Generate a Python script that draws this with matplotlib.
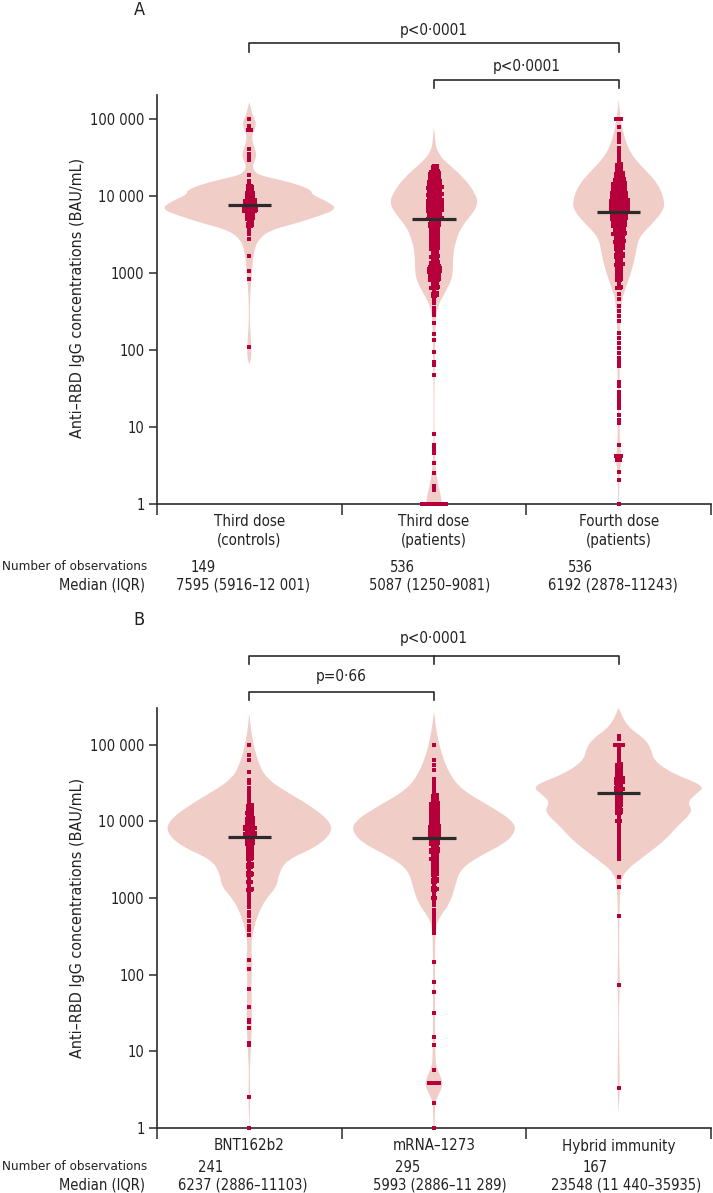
import numpy as np
import matplotlib.pyplot as plt
from matplotlib.path import Path
from matplotlib.patches import PathPatch
from matplotlib.ticker import NullLocator
from matplotlib.transforms import blended_transform_factory

plt.rcParams['font.family'] = ['DejaVu Sans']
plt.rcParams['font.stretch'] = 'condensed'
plt.rcParams['font.size'] = 10.5

W, H = 713, 1193
VIOLIN = '#f1cdc7'
DOT = '#b5003c'
INK = '#2b2b2b'

# ---------------- panel A ----------------
a_labels = ['Third dose\n(controls)', 'Third dose\n(patients)', 'Fourth dose\n(patients)']
a_n = [149, 536, 536]
a_median = [7595, 5087, 6192]
a_iqr = ['7595 (5916–12 001)', '5087 (1250–9081)', '6192 (2878–11243)']

# violin outlines: log10 level -> half width (fraction of slot)
a1_violin_log = [5.22, 5.07, 4.99, 4.93, 4.85, 4.76, 4.63, 4.54, 4.46, 4.37, 4.30, 4.26, 4.22, 4.15, 4.07,
                 4.02, 3.92, 3.83, 3.74, 3.63, 3.55, 3.42, 3.24, 3.02, 2.89, 2.72, 2.37, 2.20, 2.05, 1.90, 1.81]
a1_violin_width = [0, .015, .030, .036, .027, .011, .027, .040, .030, .015, .035, .070, .145, .260, .340,
                   .335, .430, .475, .380, .232, .108, .043, .022, .015, .011, .004, .002, .007, .011, .011, 0]
a2_violin_log = [4.89, 4.75, 4.63, 4.55, 4.46, 4.24, 4.02, 3.89, 3.76, 3.59, 3.42, 3.24, 3.02, 2.89, 2.72,
                 2.55, 2.29, 1.85, 1.42, 0.99, 0.55, 0.29, 0.12, 0.0, -0.1]
a2_violin_width = [0, .006, .011, .027, .054, .162, .227, .238, .205, .146, .119, .103, .103, .092, .054,
                   .015, .007, .005, .002, .002, .005, .018, .036, .043, .045]
a3_violin_log = [5.25, 5.07, 4.80, 4.54, 4.33, 4.15, 3.94, 3.81, 3.63, 3.46, 3.24, 3.02, 2.81, 2.63, 2.29,
                 1.42, 0.85, 0.70, 0.60, 0.50, 0.42, 0.2, 0.0, -0.1]
a3_violin_width = [0, .007, .025, .065, .146, .216, .249, .243, .178, .108, .092, .070, .038, .015, .007,
                   .005, .005, .010, .015, .012, .005, .003, .002, .002]

# observations: dense stretches as 0.1-decade bins with counts, the rest one by one (log10)
a1_bin_log = [3.55, 3.65, 3.75, 3.85, 3.95, 4.05, 4.15]
a1_bin_count = [6, 12, 22, 36, 28, 20, 11]
a1_single_log = [5.0, 4.91, 4.85, 4.85, 4.61, 4.54, 4.52, 4.46, 4.27, 3.44, 3.22, 3.02, 2.92, 2.04]

a2_bin_log = [2.65, 2.75, 2.85, 2.95, 3.05, 3.15, 3.25, 3.35, 3.45, 3.55, 3.65, 3.75, 3.85, 3.95, 4.05,
              4.15, 4.25, 4.35]
a2_bin_count = [8, 12, 18, 30, 38, 20, 18, 22, 22, 24, 28, 42, 48, 44, 42, 42, 32, 18]
a2_single_log = [2.55, 2.51, 2.45, 2.35, 2.21, 2.13, 1.97, 1.85, 1.81, 1.67, 0.91, 0.77, 0.72, 0.66, 0.53,
                 0.40, 0.23, 0.18, 0, 0, 0, 0, 0, 0, 0, 0, 0, 0]

a3_bin_log = [2.85, 2.95, 3.05, 3.15, 3.25, 3.35, 3.45, 3.55, 3.65, 3.75, 3.85, 3.95, 4.05, 4.15, 4.25,
              4.35, 4.45, 4.55]
a3_bin_count = [10, 14, 16, 18, 20, 23, 26, 34, 40, 48, 54, 52, 44, 38, 26, 16, 10, 6]
a3_single_log = [5.0, 5.0, 5.0, 4.89, 4.80, 4.75, 4.70, 4.62, 2.72, 2.66, 2.57, 2.50, 2.44, 2.37, 2.22,
                 2.16, 2.09, 2.03, 1.96, 1.90, 1.85, 1.79, 1.59, 1.53, 1.46, 1.40, 1.35, 1.30, 1.24, 1.16,
                 1.09, 1.05, 0.77, 0.62, 0.62, 0.62, 0.57, 0.57, 0.42, 0.31, 0.0]

# ---------------- panel B ----------------
b_labels = ['BNT162b2', 'mRNA–1273', 'Hybrid immunity']
b_n = [241, 295, 167]
b_median = [6237, 5993, 23548]
b_iqr = ['6237 (2886–11103)', '5993 (2886–11 289)', '23548 (11 440–35935)']

b1_violin_log = [5.41, 5.07, 4.72, 4.55, 4.41, 4.19, 4.00, 3.85, 3.67, 3.50, 3.32, 3.15, 2.98, 2.76, 2.54,
                 2.37, 2.15, 1.98, 1.76, 1.45, 1.15, 0.89, 0.72, 0.41, 0.15, 0.0, -0.1]
b1_violin_width = [0, .015, .054, .100, .185, .340, .438, .447, .365, .204, .159, .150, .086, .041, .018,
                   .009, .018, .011, .012, .015, .011, .005, .002, .005, .002, .001, .001]
b2_violin_log = [5.43, 5.15, 4.89, 4.63, 4.41, 4.19, 4.02, 3.89, 3.72, 3.54, 3.37, 3.15, 2.93, 2.76, 2.63,
                 2.24, 1.58, 0.93, 0.80, 0.68, 0.58, 0.48, 0.38, 0.28, 0.0, -0.1]
b2_violin_width = [0, .015, .040, .081, .150, .310, .420, .447, .390, .240, .140, .114, .086, .032, .009,
                   .005, .005, .007, .012, .035, .049, .035, .012, .005, .003, .003]
b3_violin_log = [5.48, 5.24, 5.07, 4.93, 4.80, 4.63, 4.46, 4.36, 4.25, 4.13, 3.93, 3.76, 3.54, 3.33, 3.11,
                 2.68, 2.3, 1.89, 1.58, 1.2, 0.54, 0.19]
b3_violin_width = [0, .045, .146, .178, .189, .286, .470, .420, .370, .405, .314, .254, .135, .022, .007,
                   .004, .002, .007, .002, .002, .007, 0]

b1_bin_log = [2.95, 3.05, 3.15, 3.25, 3.35, 3.45, 3.55, 3.65, 3.75, 3.85, 3.95, 4.05, 4.15, 4.25, 4.35]
b1_bin_count = [4, 8, 10, 9, 11, 12, 14, 16, 23, 28, 27, 20, 17, 10, 7]
b1_single_log = [5.0, 4.87, 4.80, 4.65, 4.54, 4.50, 4.44, 2.88, 2.82, 2.76, 2.70, 2.64, 2.58, 2.52, 2.19,
                 2.08, 1.82, 1.58, 1.41, 1.38, 1.30, 1.11, 1.08, 0.41, 0.0]

b2_bin_log = [2.95, 3.05, 3.15, 3.25, 3.35, 3.45, 3.55, 3.65, 3.75, 3.85, 3.95, 4.05, 4.15, 4.25, 4.35]
b2_bin_count = [6, 9, 11, 12, 15, 16, 17, 20, 24, 30, 28, 22, 24, 20, 12]
b2_single_log = [5.0, 4.80, 4.74, 4.67, 4.56, 4.50, 4.47, 4.43, 2.85, 2.80, 2.75, 2.70, 2.65, 2.60, 2.55,
                 2.17, 1.91, 1.78, 1.50, 1.19, 1.08, 0.76, 0.59, 0.59, 0.59, 0.59, 0.59, 0.32, 0.0]

b3_bin_log = [3.55, 3.65, 3.75, 3.85, 3.95, 4.05, 4.15, 4.25, 4.35, 4.45, 4.55, 4.65, 4.75, 4.85]
b3_bin_count = [4, 5, 6, 6, 7, 9, 13, 15, 14, 19, 22, 16, 12, 5]
b3_single_log = [5.12, 5.07, 5.0, 5.0, 5.0, 5.0, 4.95, 4.90, 4.88, 3.28, 3.15, 2.76, 1.87, 0.52]


def fx(px):
    return px / W


def fy(px):
    return 1 - px / H


def violin_patch(center, logs, widths):
    # smooth closed outline (quadratic curves through midpoints), built in log space
    logs = np.asarray(logs, float)
    w = np.asarray(widths, float)
    pts = np.column_stack([np.concatenate([center + w, (center - w)[::-1]]),
                           np.concatenate([logs, logs[::-1]])])
    mids = (pts + np.roll(pts, -1, axis=0)) / 2
    verts = [mids[-1]]
    codes = [Path.MOVETO]
    for p, m in zip(pts, mids):
        verts += [p, m]
        codes += [Path.CURVE3, Path.CURVE3]
    verts = np.array(verts)
    verts[:, 1] = 10 ** verts[:, 1]
    return PathPatch(Path(verts, codes), facecolor=VIOLIN, edgecolor='none', zorder=1)


def swarm(center, bin_logs, bin_counts, single_logs):
    dx = 2.6 / 185
    xs, ys = [], []
    for c, n in zip(bin_logs, bin_counts):
        k = min(n, 8)
        for r in range(k):
            m = n // k + (1 if r < n % k else 0)
            y = c - 0.05 + (r + 0.5) * 0.1 / k
            shift = 0.5 * dx if (r % 2 and m > 1) else 0
            for j in range(m):
                xs.append(center + (j - (m - 1) / 2) * dx + shift)
                ys.append(y)
    vals, counts = np.unique(single_logs, return_counts=True)
    for v, m in zip(vals, counts):
        for j in range(m):
            xs.append(center + (j - (m - 1) / 2) * dx)
            ys.append(v)
    return np.array(xs), 10 ** np.array(ys)


def draw_panel(ax, top_log, violins, swarms, medians):
    for i, (logs, widths) in enumerate(violins):
        ax.add_patch(violin_patch(i, logs, widths))
    for i, (bl, bc, sl) in enumerate(swarms):
        x, y = swarm(i, bl, bc, sl)
        ax.scatter(x, y, s=5, marker='s', color=DOT, linewidths=0, zorder=3, clip_on=False)
    for i, m in enumerate(medians):
        ax.plot([i - 0.117, i + 0.117], [m, m], color=INK, lw=2.3, zorder=4, solid_capstyle='butt')
    ax.set_yscale('log')
    ax.set_ylim(1, 10 ** top_log)
    ax.set_xlim(-0.5, 2.5)
    ax.set_yticks([1, 10, 100, 1000, 10000, 100000])
    ax.set_yticklabels(['1', '10', '100', '1000', '10 000', '100 000'])
    ax.yaxis.set_minor_locator(NullLocator())
    ax.set_xticks([-0.5, 0.5, 1.5, 2.5])
    ax.set_xticklabels([])
    for s in ['top', 'right']:
        ax.spines[s].set_visible(False)
    for s in ['left', 'bottom']:
        ax.spines[s].set_color(INK)
        ax.spines[s].set_linewidth(1.2)
    ax.tick_params(axis='y', length=6, width=1.1, color=INK, pad=3, labelsize=10.5, labelcolor='#222')
    ax.tick_params(axis='x', length=8, width=1.1, color=INK)


def bracket(ax, x0, x1, ypx, drop, mids=()):
    tr = blended_transform_factory(ax.transData, fig.transFigure)
    ax.plot([x0, x0, x1, x1], [fy(ypx + drop), fy(ypx), fy(ypx), fy(ypx + drop)],
            color=INK, lw=1.2, transform=tr, clip_on=False)
    for m in mids:
        ax.plot([m, m], [fy(ypx), fy(ypx + drop)], color=INK, lw=1.2, transform=tr, clip_on=False)


def table(ax, labels, label_y, n, n_x, iqr, iqr_x, row_y):
    tr = blended_transform_factory(ax.transData, fig.transFigure)
    for i, lab in enumerate(labels):
        ax.text(i, fy(label_y), lab, transform=tr, ha='center', va='center',
                fontsize=10.8, color='#222', linespacing=1.3)
    fig.text(fx(147), fy(row_y[0]), 'Number of observations', ha='right', va='center',
             fontsize=9.6, color='#222')
    fig.text(fx(145), fy(row_y[1]), 'Median (IQR)', ha='right', va='center', fontsize=10.5, color='#222')
    for v, x in zip(n, n_x):
        fig.text(fx(x), fy(row_y[0]), str(v), ha='left', va='center', color='#222')
    for s, x in zip(iqr, iqr_x):
        fig.text(fx(x), fy(row_y[1]), s, ha='center', va='center', color='#222')


fig = plt.figure(figsize=(W / 100, H / 100), dpi=100)
ax_a = fig.add_axes([fx(157), fy(504), fx(711) - fx(157), (504 - 95) / H])
ax_b = fig.add_axes([fx(157), fy(1128), fx(711) - fx(157), (1128 - 708) / H])

draw_panel(ax_a, 5.31,
           [(a1_violin_log, a1_violin_width), (a2_violin_log, a2_violin_width), (a3_violin_log, a3_violin_width)],
           [(a1_bin_log, a1_bin_count, a1_single_log), (a2_bin_log, a2_bin_count, a2_single_log),
            (a3_bin_log, a3_bin_count, a3_single_log)],
           a_median)
draw_panel(ax_b, 5.48,
           [(b1_violin_log, b1_violin_width), (b2_violin_log, b2_violin_width), (b3_violin_log, b3_violin_width)],
           [(b1_bin_log, b1_bin_count, b1_single_log), (b2_bin_log, b2_bin_count, b2_single_log),
            (b3_bin_log, b3_bin_count, b3_single_log)],
           b_median)

ylabel = 'Anti–RBD IgG concentrations (BAU/mL)'
fig.text(fx(78), fy(298), ylabel, rotation=90, ha='center', va='center', fontsize=11.5, color='#222')
fig.text(fx(78), fy(918), ylabel, rotation=90, ha='center', va='center', fontsize=11.5, color='#222')

fig.text(fx(139), fy(10), 'A', ha='center', va='center', fontsize=13, color='#222')
fig.text(fx(139), fy(620), 'B', ha='center', va='center', fontsize=13, color='#222')

# significance brackets
tr_a = blended_transform_factory(ax_a.transData, fig.transFigure)
bracket(ax_a, 0, 2, 43, 9)
ax_a.text(1, fy(30), 'p<0·0001', transform=tr_a, ha='center', va='center', fontsize=11, color='#222')
bracket(ax_a, 1, 2, 80, 8)
ax_a.text(1.5, fy(66), 'p<0·0001', transform=tr_a, ha='center', va='center', fontsize=11, color='#222')

tr_b = blended_transform_factory(ax_b.transData, fig.transFigure)
bracket(ax_b, 0, 2, 656, 8, mids=[1])
ax_b.text(1, fy(638), 'p<0·0001', transform=tr_b, ha='center', va='center', fontsize=11, color='#222')
bracket(ax_b, 0, 1, 692, 8)
ax_b.text(0.5, fy(677), 'p=0·66', transform=tr_b, ha='center', va='center', fontsize=11, color='#222')

table(ax_a, a_labels, 531, a_n, [191, 390, 568], a_iqr, [243, 430, 613], [567, 585])
table(ax_b, b_labels, 1146, b_n, [198, 395, 583], b_iqr, [243, 440, 626], [1167, 1185])

fig.savefig('out.png', dpi=100)
